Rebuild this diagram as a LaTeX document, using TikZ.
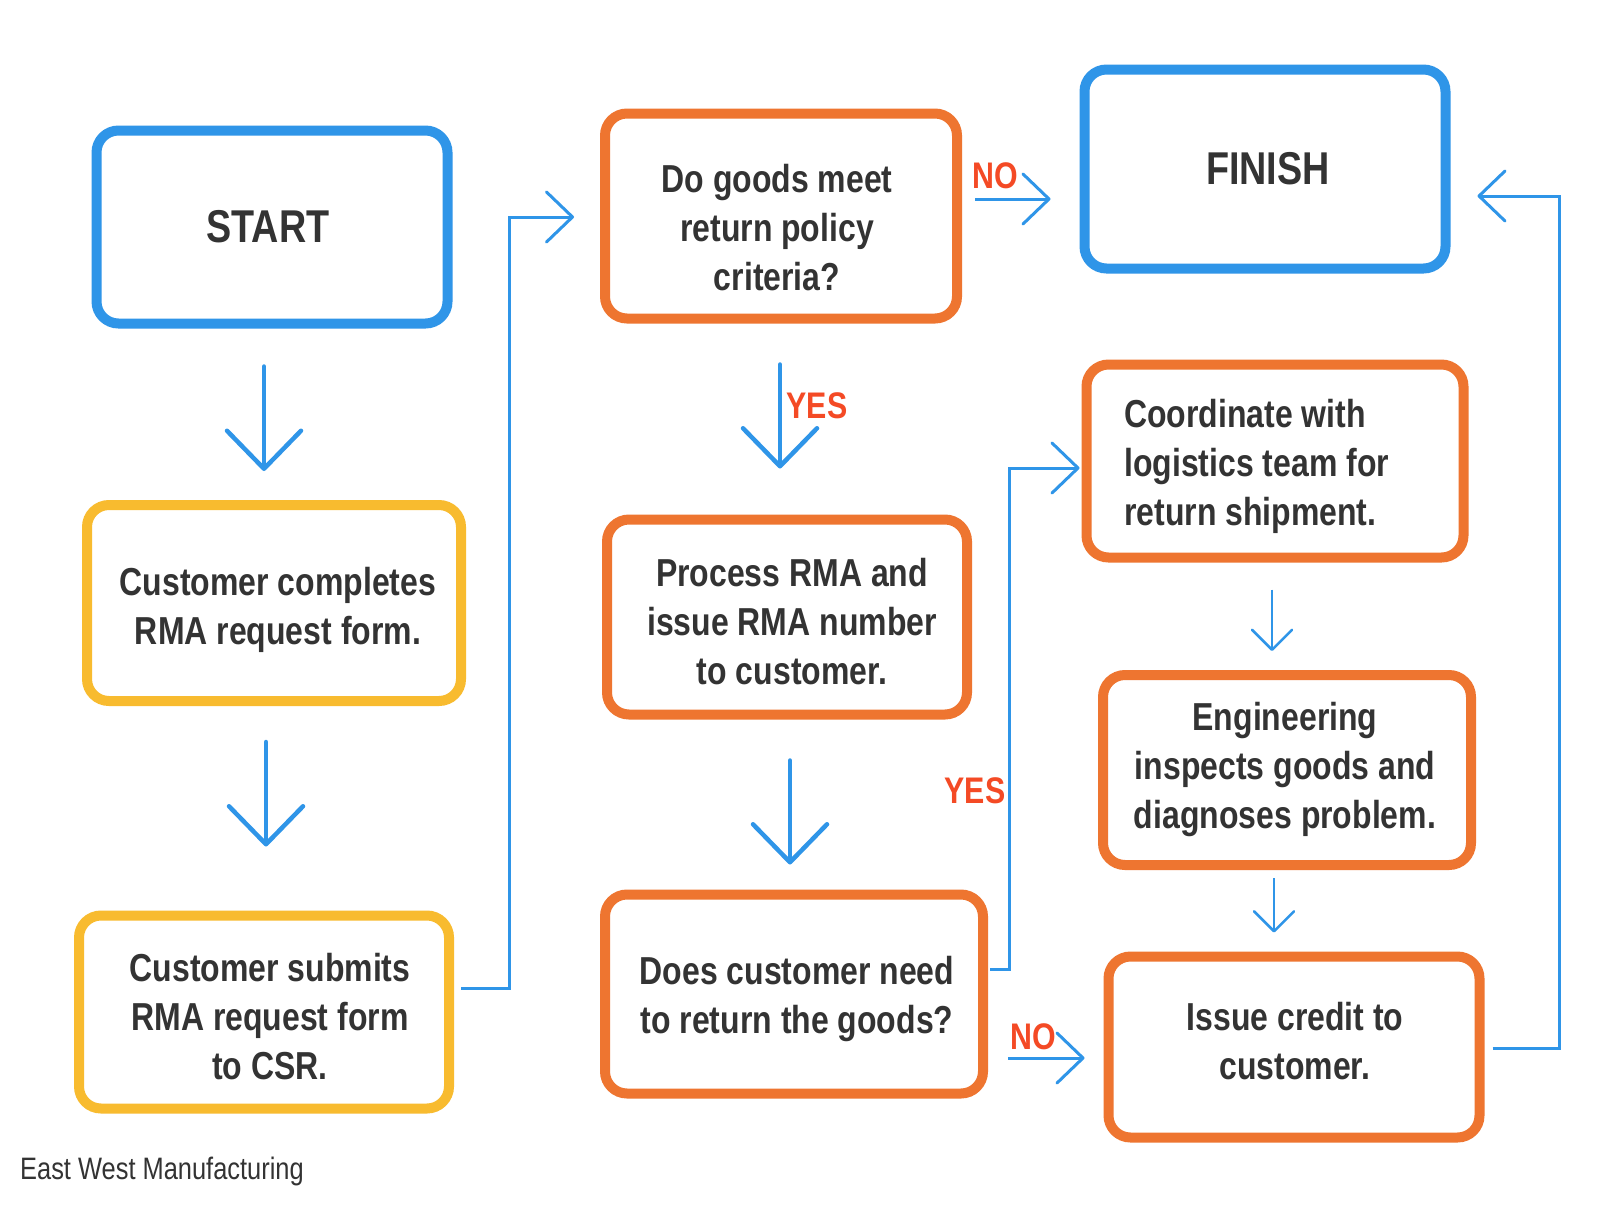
\documentclass[tikz,border=0pt]{standalone}
\usepackage{fontspec}
\setmainfont{Liberation Sans}[FakeStretch=0.82]
\usetikzlibrary{arrows.meta,calc}
\definecolor{cblue}{HTML}{2F95E8}
\definecolor{corange}{HTML}{EE7530}
\definecolor{cyellow}{HTML}{F8BB2F}
\definecolor{ctext}{HTML}{333333}
\definecolor{cred}{HTML}{F44A25}
\tikzset{
  box/.style={draw, line width=10pt, rounded corners=22pt, inner sep=0pt},
  bluebox/.style={box, draw=cblue},
  orangebox/.style={box, draw=corange},
  yellowbox/.style={box, draw=cyellow},
  boxtext/.style={text=ctext, align=center, font=\bfseries\fontsize{39}{49}\selectfont, inner sep=0pt},
  bigtitle/.style={text=ctext, font=\bfseries\fontsize{46}{52}\selectfont, inner sep=0pt},
  bigarr/.style={draw=cblue, line width=4.5pt, line cap=round,
    -{Straight Barb[length=38pt, width=74pt, line width=4.5pt, round]}},
  medarr/.style={draw=cblue, line width=3pt,
    -{Straight Barb[length=26pt, width=50pt, line width=3pt, round]}},
  smallarr/.style={draw=cblue, line width=2.5pt,
    -{Straight Barb[length=20pt, width=40pt, line width=2.5pt, round]}},
  lbl/.style={text=cred, font=\bfseries\fontsize{37}{40}\selectfont, inner sep=0pt}
}
\begin{document}
\begin{tikzpicture}[x=1pt, y=-1pt]
\useasboundingbox[fill=white] (0,0) rectangle (1600,1219);

\node[bluebox, minimum width=351pt, minimum height=193pt] (start) at (272,227) {};
\node[bigtitle] (starttxt) at (268,227) {START};
\node[yellowbox, minimum width=374pt, minimum height=196pt] (completes) at (274,603) {};
\node[boxtext] (completestxt) at (278,610) {Customer completes\\RMA request form.};
\node[yellowbox, minimum width=370pt, minimum height=193pt] (submits) at (264,1012) {};
\node[boxtext] (submitstxt) at (270,1017) {Customer submits\\RMA request form\\to CSR.};
\node[orangebox, minimum width=352pt, minimum height=205pt] (goods) at (781,216) {};
\node[boxtext] (goodstxt) at (777,228) {Do goods meet\\return policy\\criteria?};
\node[orangebox, minimum width=360pt, minimum height=195pt] (process) at (787,617) {};
\node[boxtext] (processtxt) at (792,622) {Process RMA and\\issue RMA number\\to customer.};
\node[orangebox, minimum width=378pt, minimum height=199pt] (need) at (794,994) {};
\node[boxtext] (needtxt) at (797,999) {Does customer need\\to return the goods?};
\node[bluebox, minimum width=361pt, minimum height=199pt] (finish) at (1265,169) {};
\node[bigtitle] (finishtxt) at (1268,169) {FINISH};
\node[orangebox, minimum width=377pt, minimum height=193pt] (coord) at (1275,461) {};
\node[boxtext, align=left, anchor=west] (coordtxt) at (1124,466) {Coordinate with\\logistics team for\\return shipment.};
\node[orangebox, minimum width=368pt, minimum height=190pt] (eng) at (1287,770) {};
\node[boxtext] (engtxt) at (1285,769) {Engineering\\inspects goods and\\diagnoses problem.};
\node[orangebox, minimum width=371pt, minimum height=181pt] (issue) at (1294,1047) {};
\node[boxtext] (issuetxt) at (1295,1041) {Issue credit to\\customer.};

\node[anchor=west, text=ctext, font=\fontsize{31}{36}\selectfont, inner sep=0pt] (footer) at (20,1171) {East West Manufacturing};

% connectors
\draw[bigarr] ($(start.south)+(-8,38)$) -- ($(completes.north)+(-10,-29)$);
\draw[bigarr] ($(completes.south)+(-8,36)$) -- ($(submits.north)+(2,-64)$);
\draw[medarr] ($(submits.east)+(7,-24)$) -| (509,217) -- ($(goods.west)+(-26,1)$);
\draw[medarr] ($(goods.east)+(13,-17)$) -- ($(finish.west)+(-29,30)$);
\node[lbl] (no1) at (995,176) {NO};
\draw[bigarr] ($(goods.south)+(-1,41)$) -- ($(process.north)+(-7,-46)$);
\node[lbl] (yes1) at (817,406) {YES};
\draw[bigarr] ($(process.south)+(3,41)$) -- ($(need.north)+(-4,-25)$);
\draw[medarr] ($(need.east)+(2,-25)$) -| (1009,468) -- ($(coord.west)+(-2,7)$);
\node[lbl] (yes2) at (975,791) {YES};
\draw[medarr] ($(need.east)+(20,64)$) -- ($(issue.west)+(-19,11)$);
\node[lbl] (no2) at (1033,1037) {NO};
\draw[smallarr] ($(coord.south)+(-3,27)$) -- ($(eng.north)+(-15,-19)$);
\draw[smallarr] ($(eng.south)+(-13,8)$) -- ($(issue.north)+(-20,-19)$);
\draw[medarr] ($(issue.east)+(8,1)$) -| (1559,196) -- ($(finish.east)+(27,27)$);
\end{tikzpicture}
\end{document}
